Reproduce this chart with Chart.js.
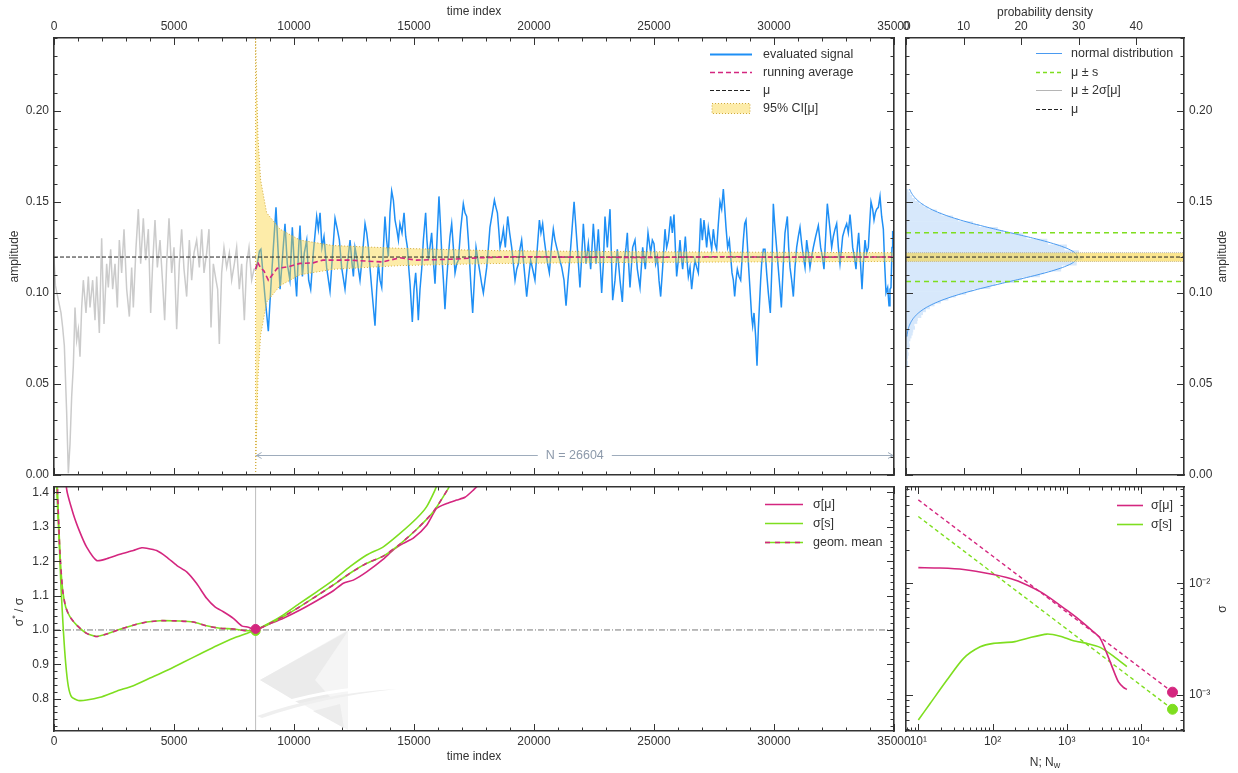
<!DOCTYPE html>
<html>
<head>
<meta charset="utf-8">
<title>signal statistics</title>
<script src="https://cdn.jsdelivr.net/npm/chart.js@4.4.1/dist/chart.umd.min.js"></script>
<style>
  html, body { margin: 0; padding: 0; background: #fff; }
  #figure { position: relative; width: 1238px; height: 773px; }
  #figure canvas { position: absolute; left: 0; top: 0; }
</style>
</head>
<body>
<div id="figure">
  <canvas id="signalChart" width="1238" height="773"></canvas>
  <canvas id="densityChart" width="1238" height="773"></canvas>
  <canvas id="ratioChart" width="1238" height="773"></canvas>
  <canvas id="sigmaChart" width="1238" height="773"></canvas>
</div>
<script>
// ---------------------------------------------------------------
// Data
// ---------------------------------------------------------------
const TIME_TICKS = [0, 5000, 10000, 15000, 20000, 25000, 30000, 35000];
const AMP_TICKS = [0, 0.05, 0.10, 0.15, 0.20];
const DENS_TICKS = [0, 10, 20, 30, 40];
const RATIO_TICKS = [0.8, 0.9, 1.0, 1.1, 1.2, 1.3, 1.4];
const N_TICKS = [10, 100, 1000, 10000];
const SIGMA_TICKS = [0.001, 0.01];

const TIME_RANGE = [0, 35000];
const AMP_RANGE = [0, 0.24];
const DENS_RANGE = [0, 48.3];
const RATIO_RANGE = [0.706, 1.416];
const N_RANGE = [6.82, 38000];
const SIGMA_RANGE = [0.000476, 0.0728];

const T_START = 8400;          // first sample of the evaluated window
const N_EVAL = 26604;
const N_ARROW_AMP = 0.011;
const MU = 0.1197;
const MU_PM_S = [0.1063, 0.1331];
const MU_PM_2SEM = [0.1173, 0.1221];

// discarded start-up part of the signal [time, amplitude]
const burnIn = [
  [0,0.119],[60,0.104],[120,0.100],[230,0.093],[292,0.089],[361,0.081],[431,0.071],[528,0.034],
  [597,0.001],[667,0.017],[736,0.043],[806,0.060],[875,0.092],[944,0.074],[1014,0.080],[1083,0.065],
  [1153,0.092],[1222,0.107],[1333,0.089],[1431,0.109],[1500,0.092],[1611,0.107],[1708,0.085],[1778,0.109],
  [1889,0.078],[1986,0.130],[2083,0.083],[2194,0.116],[2264,0.103],[2361,0.124],[2444,0.102],[2542,0.116],
  [2639,0.092],[2722,0.129],[2819,0.111],[2917,0.135],[3028,0.102],[3139,0.087],[3236,0.114],[3306,0.092],
  [3417,0.125],[3514,0.146],[3611,0.116],[3722,0.141],[3819,0.118],[3931,0.135],[4028,0.089],[4111,0.116],
  [4208,0.140],[4306,0.114],[4417,0.129],[4528,0.105],[4611,0.085],[4694,0.116],[4792,0.141],[4903,0.111],
  [5000,0.125],[5111,0.080],[5222,0.116],[5319,0.135],[5417,0.113],[5528,0.098],[5639,0.129],[5736,0.107],
  [5833,0.122],[5944,0.129],[6056,0.114],[6153,0.135],[6250,0.111],[6361,0.122],[6458,0.135],[6542,0.081],
  [6639,0.116],[6750,0.107],[6819,0.102],[6889,0.072],[6986,0.111],[7083,0.125],[7194,0.114],[7306,0.122],
  [7403,0.107],[7514,0.116],[7611,0.125],[7722,0.102],[7819,0.116],[7931,0.085],[8028,0.116],[8125,0.125],
  [8236,0.107],[8333,0.113],[8400,0.113]
];

// evaluated signal [time, amplitude]
const evaluated = [
  [8400,0.113],[8445,0.114],[8560,0.123],[8620,0.124],[8790,0.098],[8930,0.079],[9030,0.102],[9140,0.125],
  [9250,0.147],[9330,0.125],[9420,0.102],[9510,0.118],[9625,0.138],[9720,0.116],[9830,0.107],[9930,0.136],
  [10010,0.116],[10110,0.098],[10195,0.125],[10250,0.137],[10350,0.109],[10430,0.122],[10530,0.129],[10610,0.107],
  [10695,0.102],[10805,0.122],[10945,0.142],[11015,0.135],[11085,0.144],[11165,0.125],[11250,0.131],[11360,0.114],
  [11500,0.101],[11600,0.120],[11710,0.141],[11805,0.135],[11890,0.129],[11985,0.114],[12125,0.102],[12225,0.116],
  [12335,0.129],[12405,0.118],[12475,0.109],[12540,0.125],[12610,0.120],[12750,0.107],[12860,0.122],[12960,0.138],
  [13030,0.133],[13100,0.125],[13165,0.114],[13235,0.103],[13375,0.082],[13445,0.102],[13515,0.116],[13585,0.107],
  [13655,0.103],[13725,0.125],[13790,0.142],[13860,0.129],[13930,0.120],[14000,0.144],[14070,0.156],[14140,0.151],
  [14210,0.140],[14280,0.135],[14350,0.129],[14415,0.138],[14500,0.133],[14585,0.144],[14655,0.131],[14725,0.125],
  [14780,0.114],[14835,0.105],[14930,0.084],[15000,0.102],[15070,0.111],[15125,0.100],[15180,0.085],[15250,0.102],
  [15320,0.113],[15390,0.129],[15485,0.144],[15540,0.129],[15600,0.118],[15665,0.125],[15735,0.133],[15805,0.118],
  [15875,0.105],[15945,0.125],[16040,0.153],[16100,0.138],[16155,0.122],[16225,0.107],[16290,0.091],[16360,0.107],
  [16430,0.120],[16500,0.131],[16570,0.138],[16640,0.125],[16710,0.111],[16780,0.116],[16850,0.118],[16945,0.135],
  [17055,0.149],[17125,0.144],[17195,0.142],[17265,0.129],[17305,0.120],[17375,0.103],[17445,0.089],[17515,0.107],
  [17585,0.125],[17665,0.118],[17750,0.111],[17820,0.105],[17890,0.100],[17960,0.107],[18030,0.114],[18100,0.125],
  [18165,0.136],[18265,0.144],[18350,0.151],[18415,0.147],[18475,0.144],[18530,0.135],[18585,0.125],[18655,0.129],
  [18725,0.135],[18805,0.125],[18905,0.142],[18985,0.133],[19070,0.125],[19140,0.116],[19210,0.107],[19280,0.113],
  [19350,0.116],[19415,0.124],[19485,0.129],[19585,0.114],[19695,0.098],[19780,0.109],[19860,0.118],[19945,0.113],
  [20040,0.107],[20140,0.125],[20225,0.140],[20290,0.133],[20360,0.138],[20430,0.129],[20500,0.122],[20570,0.116],
  [20640,0.111],[20725,0.125],[20805,0.135],[20875,0.129],[20945,0.125],[21040,0.120],[21155,0.114],[21250,0.107],
  [21335,0.093],[21415,0.107],[21500,0.120],[21585,0.135],[21670,0.150],[21735,0.138],[21805,0.125],[21860,0.114],
  [21915,0.103],[21986,0.120],[22056,0.138],[22111,0.127],[22167,0.116],[22264,0.127],[22361,0.113],[22417,0.125],
  [22472,0.138],[22528,0.127],[22583,0.116],[22681,0.135],[22750,0.118],[22819,0.100],[22889,0.116],[22958,0.142],
  [23056,0.125],[23111,0.136],[23167,0.146],[23222,0.122],[23278,0.096],[23375,0.107],[23472,0.124],[23583,0.107],
  [23681,0.095],[23764,0.118],[23833,0.125],[23889,0.133],[23944,0.116],[24000,0.103],[24111,0.125],[24208,0.129],
  [24306,0.113],[24417,0.103],[24528,0.125],[24639,0.113],[24750,0.133],[24861,0.122],[24931,0.129],[25000,0.127],
  [25069,0.116],[25139,0.120],[25208,0.107],[25278,0.098],[25361,0.114],[25458,0.135],[25528,0.125],[25597,0.129],
  [25694,0.142],[25764,0.133],[25833,0.143],[25889,0.125],[25944,0.109],[26014,0.118],[26083,0.129],[26139,0.120],
  [26194,0.113],[26306,0.131],[26361,0.120],[26431,0.109],[26500,0.114],[26569,0.102],[26639,0.111],[26708,0.118],
  [26778,0.114],[26847,0.111],[26944,0.141],[27014,0.129],[27083,0.140],[27139,0.133],[27194,0.125],[27264,0.136],
  [27333,0.130],[27403,0.124],[27472,0.135],[27542,0.127],[27611,0.124],[27681,0.138],[27750,0.150],[27819,0.146],
  [27889,0.157],[27944,0.147],[28000,0.136],[28069,0.125],[28139,0.129],[28194,0.120],[28250,0.111],[28306,0.107],
  [28361,0.098],[28417,0.107],[28472,0.113],[28542,0.109],[28611,0.107],[28667,0.118],[28722,0.129],[28778,0.138],
  [28833,0.140],[28889,0.127],[28944,0.114],[29000,0.102],[29069,0.087],[29111,0.082],[29167,0.089],[29236,0.076],
  [29292,0.060],[29347,0.080],[29389,0.092],[29444,0.107],[29486,0.116],[29556,0.124],[29625,0.124],[29694,0.111],
  [29764,0.100],[29847,0.089],[29917,0.116],[29972,0.149],[30028,0.138],[30083,0.129],[30139,0.120],[30194,0.111],
  [30250,0.102],[30306,0.092],[30389,0.116],[30458,0.133],[30556,0.142],[30611,0.125],[30667,0.114],[30736,0.107],
  [30806,0.098],[30875,0.114],[30944,0.125],[31014,0.131],[31083,0.136],[31153,0.127],[31222,0.120],[31292,0.114],
  [31361,0.129],[31431,0.122],[31500,0.114],[31569,0.120],[31639,0.125],[31736,0.131],[31847,0.137],[31944,0.125],
  [32014,0.120],[32083,0.113],[32153,0.131],[32222,0.149],[32278,0.142],[32333,0.135],[32403,0.125],[32472,0.131],
  [32542,0.135],[32611,0.138],[32681,0.125],[32750,0.116],[32819,0.125],[32861,0.131],[32944,0.135],[33028,0.138],
  [33097,0.133],[33167,0.143],[33222,0.135],[33278,0.125],[33347,0.120],[33417,0.113],[33472,0.125],[33528,0.133],
  [33597,0.118],[33667,0.102],[33722,0.116],[33792,0.129],[33861,0.122],[33931,0.125],[33986,0.138],[34042,0.150],
  [34111,0.146],[34167,0.140],[34222,0.144],[34278,0.146],[34347,0.147],[34417,0.153],[34486,0.142],[34556,0.135],
  [34611,0.116],[34667,0.100],[34736,0.103],[34792,0.093],[34833,0.102],[34875,0.103],[34917,0.125],[34944,0.134],
  [35000,0.130]
];

const runningAvg = [
  [8400,0.113],[8480,0.117],[8600,0.114],[8750,0.112],[8930,0.107],[9100,0.110],[9300,0.1135],[9800,0.1145],
  [10250,0.1162],[10800,0.1165],[11200,0.118],[12300,0.118],[13000,0.1175],[13700,0.117],[14400,0.1193],
  [15100,0.118],[16500,0.1185],[17900,0.1194],[19300,0.1199],[22000,0.1196],[25000,0.1195],[28000,0.1199],
  [30000,0.1196],[33000,0.1197],[35000,0.1197]
];

const ciTime  = [8400, 8440, 8500, 8610, 8860, 9420, 10250, 11640, 14400, 18000, 22000, 28000, 35000];
const ciUpper = [0.240, 0.215, 0.185, 0.162, 0.144, 0.135, 0.129, 0.126, 0.1245, 0.1233, 0.1228, 0.1224, 0.1221];
const ciLower = [0.000, 0.024, 0.054, 0.077, 0.095, 0.104, 0.110, 0.113, 0.1150, 0.1161, 0.1166, 0.1170, 0.1173];

// histogram of the evaluated signal (bin centre, density)
const histAmp = [
  0.0600,0.0616,0.0632,0.0648,0.0664,0.0680,0.0696,0.0712,0.0728,0.0744,0.0760,0.0776,0.0792,0.0808,0.0824,
  0.0840,0.0856,0.0872,0.0888,0.0904,0.0920,0.0936,0.0952,0.0968,0.0984,0.1000,0.1016,0.1032,0.1048,0.1064,
  0.1080,0.1096,0.1112,0.1128,0.1144,0.1160,0.1176,0.1192,0.1208,0.1224,0.1240,0.1256,0.1272,0.1288,0.1304,
  0.1320,0.1336,0.1352,0.1368,0.1384,0.1400,0.1416,0.1432,0.1448,0.1464,0.1480,0.1496,0.1512,0.1528,0.1544,0.1560
];
const histDens = [
  0.3,0.3,0.2,0.3,0.4,0.3,0.5,0.6,0.5,0.7,0.9,1.1,1.2,1.5,1.4,
  1.9,2.0,2.6,2.9,3.4,4.1,4.9,6.0,7.3,8.6,10.4,11.5,14.6,15.5,19.0,
  20.1,23.2,24.0,26.9,27.0,29.6,28.8,30.6,29.2,30.0,27.5,27.9,24.6,24.5,20.9,
  20.3,16.8,15.9,12.6,11.6,9.0,8.1,6.1,5.3,3.8,3.0,2.2,1.5,1.0,0.7,0.4
];

// fitted normal distribution (amplitude, density)
const normAmp = [
  0.076,0.078,0.080,0.082,0.084,0.086,0.088,0.090,0.092,0.094,0.096,0.098,0.100,0.102,0.104,0.106,0.108,
  0.110,0.112,0.114,0.116,0.118,0.1197,0.122,0.124,0.126,0.128,0.130,0.132,0.134,0.136,0.138,0.140,0.142,
  0.144,0.146,0.148,0.150,0.152,0.154,0.156,0.157
];
const normDens = [
  0.15,0.24,0.37,0.57,0.86,1.26,1.81,2.56,3.52,4.74,6.24,8.03,10.11,12.46,15.0,17.67,20.36,
  22.93,25.27,27.22,28.69,29.56,29.8,29.37,28.30,26.68,24.60,22.18,19.55,16.86,14.22,11.73,9.46,7.46,
  5.76,4.34,3.20,2.31,1.63,1.12,0.76,0.62
];

// sigma*/sigma against the start of the evaluated window [time, ratio]
const sigmaMuRatio = [
  [300,1.60],[528,1.409],[806,1.337],[1083,1.284],[1361,1.241],[1778,1.202],[2194,1.207],[2750,1.220],
  [3306,1.231],[3653,1.239],[3861,1.238],[4278,1.231],[4694,1.212],[5111,1.188],[5528,1.169],[5944,1.135],
  [6361,1.092],[6708,1.067],[7056,1.053],[7472,1.034],[7819,1.012],[8097,1.008],[8400,1.0],[8861,1.014],
  [9556,1.034],[10250,1.058],[10945,1.085],[11639,1.114],[12056,1.136],[12472,1.145],[13028,1.169],
  [13722,1.206],[14139,1.233],[14556,1.252],[14972,1.267],[15528,1.305],[15945,1.354],[16361,1.368],
  [16778,1.378],[17125,1.386],[17472,1.407],[17800,1.43]
];
const sigmaSRatio = [
  [40,1.70],[111,1.42],[208,1.270],[292,1.125],[389,1.0],[486,0.904],[597,0.836],[736,0.805],[1014,0.795],
  [1361,0.796],[1917,0.804],[2611,0.822],[3306,0.838],[4000,0.860],[4694,0.882],[5389,0.906],[6083,0.930],
  [6778,0.954],[7472,0.976],[8028,0.990],[8400,1.0],[9000,1.021],[9556,1.044],[10250,1.078],[10945,1.111],
  [11639,1.145],[12333,1.184],[13028,1.218],[13722,1.242],[14417,1.281],[15111,1.325],[15528,1.359],
  [15875,1.407],[16000,1.43]
];
const geomMeanRatio = [
  [60,1.70],[139,1.42],[250,1.222],[361,1.116],[486,1.067],[667,1.038],[944,1.014],[1361,0.990],[1778,0.981],
  [2194,0.988],[2750,1.002],[3306,1.014],[3861,1.023],[4417,1.027],[5250,1.026],[5806,1.023],[6361,1.012],
  [6917,1.005],[7472,1.003],[8028,0.998],[8400,1.0],[9000,1.019],[9556,1.039],[10250,1.068],[10945,1.099],
  [11639,1.131],[12333,1.165],[13028,1.194],[13722,1.215],[14417,1.250],[15111,1.293],[15806,1.344],
  [16431,1.412],[16550,1.43]
];

// sigma against sample / window size [N, sigma]
const sigmaMuN = [
  [10,0.0138],[19.6,0.0137],[40.7,0.0133],[103,0.0120],[155,0.01125],[236,0.01027],[486,0.00809],[1000,0.00574],
  [1510,0.00466],[2290,0.00368],[2820,0.00321],[3470,0.00236],[4250,0.00167],[4970,0.00131],[5800,0.00117],
  [6450,0.00112]
];
const sigmaSN = [
  [10,0.000598],[14.5,0.000843],[24.3,0.00136],[40.7,0.00213],[68.2,0.0027],[103,0.0029],[192,0.00299],
  [290,0.00321],[540,0.00351],[815,0.00336],[1230,0.00306],[1860,0.0029],[2820,0.00267],[4250,0.00223],
  [6450,0.00179]
];
const refMuN = [[10,0.0558],[26604,0.00106]];
const refSN = [[10,0.0396],[26604,0.000745]];

// ---------------------------------------------------------------
// Styles and helpers
// ---------------------------------------------------------------
const W = 1238, H = 773;
const FONT = '"Liberation Sans", Arial, Helvetica, sans-serif';
const INK = '#333333';
const BLUE = '#1e8ff5';
const GRAY = '#cbcbcb';
const MAGENTA = '#d4267f';
const GREEN = '#7ede1f';
const NORMAL_BLUE = '#4a9af0';
const HIST_BLUE = '#d7e8fb';
const CI_FILL = 'rgba(250, 210, 50, 0.42)';
const BAND_FILL = 'rgba(250, 210, 50, 0.55)';
const CI_EDGE = '#cfa93c';

Chart.defaults.font.family = FONT;
Chart.defaults.font.size = 12;
Chart.defaults.color = INK;

const BOX = {
  signal:  { l: 54,  t: 38,  r: 894,  b: 475 },
  density: { l: 906, t: 38,  r: 1184, b: 475 },
  ratio:   { l: 54,  t: 487, r: 894,  b: 731 },
  sigma:   { l: 906, t: 487, r: 1184, b: 731 },
};
const LABELED_H = 30, LABELED_V = 44, BARE = 2;

const xy = pairs => pairs.map(([x, y]) => ({ x, y }));
const zip = (xs, ys) => xs.map((x, i) => ({ x, y: ys[i] }));
const hline = (y, range) => [{ x: range[0], y }, { x: range[1], y }];

function range(a, b, step) {
  const out = [];
  for (let i = 0; a + i * step <= b + 1e-9; i++) out.push(+(a + i * step).toFixed(6));
  return out;
}
function logMinor(lo, hi) {
  const out = [];
  for (let e = Math.floor(Math.log10(lo)); e <= Math.floor(Math.log10(hi)); e++) {
    for (let m = 1; m <= 9; m++) {
      const v = m * Math.pow(10, e);
      if (v >= lo && v <= hi) out.push(v);
    }
  }
  return out;
}

const SUP = { '-': '\u207B', '0': '\u2070', '1': '\u00B9', '2': '\u00B2', '3': '\u00B3',
  '4': '\u2074', '5': '\u2075', '6': '\u2076', '7': '\u2077', '8': '\u2078', '9': '\u2079' };
const fmtInt = v => String(Math.round(v));
const fmt1 = v => v.toFixed(1);
const fmt2 = v => v.toFixed(2);
const fmtPow = v => '10' + String(Math.round(Math.log10(v))).split('').map(c => SUP[c]).join('');

function axis(position, o) {
  const horiz = position === 'top' || position === 'bottom';
  const size = o.format ? (horiz ? LABELED_H : LABELED_V) : BARE;
  return {
    type: o.type || 'linear',
    axis: horiz ? 'x' : 'y',
    position,
    min: o.range[0],
    max: o.range[1],
    bounds: 'data',
    offset: false,
    grid: { display: false, drawTicks: false, offset: false },
    border: { display: true, color: INK, width: 1.6, z: 1 },
    ticks: {
      display: !!o.format,
      autoSkip: false,
      maxRotation: 0,
      minRotation: 0,
      padding: o.pad != null ? o.pad : 4,
      color: INK,
      font: { size: 12 },
      callback: o.format || (() => ''),
    },
    afterBuildTicks: s => { s.ticks = o.major.map(v => ({ value: v })); },
    afterFit: s => { if (horiz) s.height = size; else s.width = size; },
  };
}

function layoutFor(box, lab) {
  return {
    left: box.l - (lab.left ? LABELED_V : BARE),
    right: W - box.r - (lab.right ? LABELED_V : BARE),
    top: box.t - (lab.top ? LABELED_H : BARE),
    bottom: H - box.b - (lab.bottom ? LABELED_H : BARE),
  };
}

function drawTickMarks(chart, marks) {
  const { ctx, chartArea: a } = chart;
  ctx.save();
  ctx.strokeStyle = INK;
  ctx.lineWidth = 1;
  marks.forEach(({ id, major, minor }) => {
    const s = chart.scales[id];
    const mark = (v, len) => {
      const p = Math.round(s.getPixelForValue(v)) + 0.5;
      const horiz = s.position === 'top' || s.position === 'bottom';
      if (horiz && (p < a.left - 1 || p > a.right + 1)) return;
      if (!horiz && (p < a.top - 1 || p > a.bottom + 1)) return;
      ctx.beginPath();
      if (s.position === 'bottom') { ctx.moveTo(p, a.bottom); ctx.lineTo(p, a.bottom - len); }
      if (s.position === 'top') { ctx.moveTo(p, a.top); ctx.lineTo(p, a.top + len); }
      if (s.position === 'left') { ctx.moveTo(a.left, p); ctx.lineTo(a.left + len, p); }
      if (s.position === 'right') { ctx.moveTo(a.right, p); ctx.lineTo(a.right - len, p); }
      ctx.stroke();
    };
    (minor || []).forEach(v => mark(v, 3.5));
    major.forEach(v => mark(v, 7));
  });
  ctx.restore();
}

function strokeSample(ctx, x0, x1, y, color, width, dash) {
  ctx.save();
  ctx.strokeStyle = color;
  ctx.lineWidth = width;
  ctx.setLineDash(dash || []);
  ctx.beginPath();
  ctx.moveTo(x0, y);
  ctx.lineTo(x1, y);
  ctx.stroke();
  ctx.restore();
}

function drawLegend(ctx, a, lg) {
  lg.items.forEach((it, i) => {
    const y = Math.round(a.top + lg.top + i * lg.step) + 0.5;
    const x0 = a.right - lg.sample[0], x1 = a.right - lg.sample[1];
    if (it.kind === 'box') {
      ctx.save();
      ctx.fillStyle = CI_FILL;
      ctx.fillRect(x0 + 2, y - 5, x1 - x0 - 4, 10);
      ctx.strokeStyle = CI_EDGE;
      ctx.lineWidth = 1;
      ctx.setLineDash([1, 2]);
      ctx.strokeRect(x0 + 2, y - 5, x1 - x0 - 4, 10);
      ctx.restore();
    } else if (it.kind === 'dual') {
      strokeSample(ctx, x0, x1, y, GREEN, 1.6);
      strokeSample(ctx, x0, x1, y, MAGENTA, 1.6, [5, 5]);
    } else {
      strokeSample(ctx, x0, x1, y, it.color, it.width, it.dash);
    }
    ctx.save();
    ctx.font = '12.5px ' + FONT;
    ctx.fillStyle = INK;
    ctx.textBaseline = 'middle';
    ctx.textAlign = 'left';
    ctx.fillText(it.label, a.right - lg.text, y);
    ctx.restore();
  });
}

function drawRich(ctx, parts, x, y, rot) {
  ctx.save();
  ctx.translate(x, y);
  ctx.rotate(rot || 0);
  ctx.fillStyle = INK;
  ctx.textBaseline = 'middle';
  ctx.textAlign = 'left';
  const font = p => (p.sup || p.sub ? 9 : 12) + 'px ' + FONT;
  let w = 0;
  parts.forEach(p => { ctx.font = font(p); w += ctx.measureText(p.t).width; });
  let cx = -w / 2;
  parts.forEach(p => {
    ctx.font = font(p);
    ctx.fillText(p.t, cx, p.sup ? -4 : p.sub ? 3 : 0);
    cx += ctx.measureText(p.t).width;
  });
  ctx.restore();
}

function decor(cfg) {
  return {
    id: 'decor',
    beforeDatasetsDraw(chart) { if (cfg.under) cfg.under(chart); },
    afterDatasetsDraw(chart) { if (cfg.over) cfg.over(chart); },
    afterDraw(chart) {
      const { ctx, chartArea: a } = chart;
      drawTickMarks(chart, cfg.marks);
      drawLegend(ctx, a, cfg.legend);
      cfg.titles.forEach(t => drawRich(ctx, t.parts, t.x(a), t.y(a), t.rot));
    },
  };
}

const midX = a => (a.left + a.right) / 2;
const midY = a => (a.top + a.bottom) / 2;
const UP = -Math.PI / 2;

function baseOptions(box, lab, scales) {
  return {
    responsive: false,
    animation: false,
    events: [],
    layout: { autoPadding: false, padding: layoutFor(box, lab) },
    elements: { point: { radius: 0 }, line: { tension: 0, fill: false, borderWidth: 1.5 } },
    plugins: { legend: { display: false }, tooltip: { enabled: false } },
    scales,
  };
}

function poly(ctx, pts, color) {
  ctx.fillStyle = color;
  ctx.beginPath();
  pts.forEach(([x, y], i) => (i ? ctx.lineTo(x, y) : ctx.moveTo(x, y)));
  ctx.closePath();
  ctx.fill();
}

const timeMinor = range(0, 35000, 1000);
const ampMinor = range(0, 0.24, 0.01);

// ---------------------------------------------------------------
// 1. Signal with running average and confidence band
// ---------------------------------------------------------------
new Chart(document.getElementById('signalChart'), {
  type: 'line',
  data: {
    datasets: [
      { label: 'running average', data: xy(runningAvg), borderColor: MAGENTA, borderWidth: 1.6,
        borderDash: [5, 3], order: 0 },
      { label: 'mu', data: hline(MU, TIME_RANGE), borderColor: '#222', borderWidth: 1,
        borderDash: [4, 2], order: 1 },
      { label: 'ci lower', data: zip(ciTime, ciLower), borderColor: CI_EDGE, borderWidth: 1,
        borderDash: [1, 2], order: 3 },
      { label: 'ci upper', data: zip(ciTime, ciUpper), borderColor: CI_EDGE, borderWidth: 1,
        borderDash: [1, 2], fill: 2, backgroundColor: CI_FILL, order: 2 },
      { label: 'ci edge', data: [{ x: T_START, y: AMP_RANGE[0] }, { x: T_START, y: AMP_RANGE[1] }],
        borderColor: CI_EDGE, borderWidth: 1, borderDash: [1, 2], order: 3 },
      { label: 'evaluated signal', data: xy(evaluated), borderColor: BLUE, borderWidth: 1.5, order: 4 },
      { label: 'burn-in', data: xy(burnIn), borderColor: GRAY, borderWidth: 1.5, order: 5 },
    ],
  },
  options: baseOptions(BOX.signal, { left: true, top: true }, {
    x: axis('bottom', { range: TIME_RANGE, major: TIME_TICKS }),
    x2: axis('top', { range: TIME_RANGE, major: TIME_TICKS, format: fmtInt }),
    y: axis('left', { range: AMP_RANGE, major: AMP_TICKS, format: fmt2, pad: 5 }),
    y2: axis('right', { range: AMP_RANGE, major: AMP_TICKS }),
  }),
  plugins: [decor({
    marks: [
      { id: 'x', major: TIME_TICKS, minor: timeMinor },
      { id: 'x2', major: TIME_TICKS, minor: timeMinor },
      { id: 'y', major: AMP_TICKS, minor: ampMinor },
      { id: 'y2', major: AMP_TICKS, minor: ampMinor },
    ],
    legend: {
      sample: [184, 142], text: 131, top: 16, step: 18,
      items: [
        { label: 'evaluated signal', color: BLUE, width: 1.8 },
        { label: 'running average', color: MAGENTA, width: 1.6, dash: [5, 3] },
        { label: '\u03BC', color: '#222', width: 1, dash: [4, 2] },
        { label: '95% CI[\u03BC]', kind: 'box' },
      ],
    },
    titles: [
      { parts: [{ t: 'time index' }], x: midX, y: a => a.top - 26 },
      { parts: [{ t: 'amplitude' }], x: a => a.left - 39, y: midY, rot: UP },
    ],
    over(chart) {
      const { ctx } = chart;
      const sx = chart.scales.x, sy = chart.scales.y;
      const x0 = sx.getPixelForValue(T_START), x1 = sx.getPixelForValue(TIME_RANGE[1]);
      const y = Math.round(sy.getPixelForValue(N_ARROW_AMP)) + 0.5;
      ctx.save();
      ctx.strokeStyle = '#9eacbc';
      ctx.lineWidth = 1;
      ctx.beginPath();
      ctx.moveTo(x0, y); ctx.lineTo(x1, y);
      ctx.moveTo(x0 + 6, y - 3); ctx.lineTo(x0 + 1, y); ctx.lineTo(x0 + 6, y + 3);
      ctx.moveTo(x1 - 6, y - 3); ctx.lineTo(x1 - 1, y); ctx.lineTo(x1 - 6, y + 3);
      ctx.stroke();
      const label = 'N = ' + N_EVAL;
      ctx.font = '12.5px ' + FONT;
      const tw = ctx.measureText(label).width;
      const cx = (x0 + x1) / 2;
      ctx.fillStyle = '#fff';
      ctx.fillRect(cx - tw / 2 - 8, y - 7, tw + 16, 14);
      ctx.fillStyle = '#8d9aab';
      ctx.textAlign = 'center';
      ctx.textBaseline = 'middle';
      ctx.fillText(label, cx, y);
      ctx.restore();
    },
  })],
});

// ---------------------------------------------------------------
// 2. Probability density of the evaluated signal
// ---------------------------------------------------------------
new Chart(document.getElementById('densityChart'), {
  type: 'line',
  data: {
    datasets: [
      { label: 'mu', data: hline(MU, DENS_RANGE), borderColor: '#222', borderWidth: 1,
        borderDash: [4, 2], order: 0 },
      { label: 'mu - s', data: hline(MU_PM_S[0], DENS_RANGE), borderColor: GREEN, borderWidth: 1.5,
        borderDash: [5, 4], order: 1 },
      { label: 'mu + s', data: hline(MU_PM_S[1], DENS_RANGE), borderColor: GREEN, borderWidth: 1.5,
        borderDash: [5, 4], order: 1 },
      { label: 'mu - 2sem', data: hline(MU_PM_2SEM[0], DENS_RANGE), borderColor: '#aaaaaa',
        borderWidth: 0.8, borderDash: [1, 1], order: 3 },
      { label: 'mu + 2sem', data: hline(MU_PM_2SEM[1], DENS_RANGE), borderColor: '#aaaaaa',
        borderWidth: 0.8, borderDash: [1, 1], fill: 3, backgroundColor: BAND_FILL, order: 2 },
      { label: 'normal distribution', data: zip(normDens, normAmp), borderColor: NORMAL_BLUE,
        borderWidth: 1, tension: 0.2, order: 4 },
      { type: 'bar', label: 'histogram', indexAxis: 'y', data: zip(histDens, histAmp),
        backgroundColor: HIST_BLUE, borderWidth: 0, barPercentage: 1, categoryPercentage: 1, order: 6 },
    ],
  },
  options: baseOptions(BOX.density, { right: true, top: true }, {
    x: axis('bottom', { range: DENS_RANGE, major: DENS_TICKS }),
    x2: axis('top', { range: DENS_RANGE, major: DENS_TICKS, format: fmtInt }),
    y: axis('left', { range: AMP_RANGE, major: AMP_TICKS }),
    y2: axis('right', { range: AMP_RANGE, major: AMP_TICKS, format: fmt2, pad: 5 }),
  }),
  plugins: [decor({
    marks: [
      { id: 'x', major: DENS_TICKS },
      { id: 'x2', major: DENS_TICKS },
      { id: 'y', major: AMP_TICKS, minor: ampMinor },
      { id: 'y2', major: AMP_TICKS, minor: ampMinor },
    ],
    legend: {
      sample: [148, 122], text: 113, top: 15, step: 18.7,
      items: [
        { label: 'normal distribution', color: NORMAL_BLUE, width: 1 },
        { label: '\u03BC \u00B1 s', color: GREEN, width: 1.5, dash: [4, 3] },
        { label: '\u03BC \u00B1 2\u03C3[\u03BC]', color: '#b5b5b5', width: 1 },
        { label: '\u03BC', color: '#222', width: 1, dash: [4, 2] },
      ],
    },
    titles: [
      { parts: [{ t: 'probability density' }], x: midX, y: a => a.top - 25 },
      { parts: [{ t: 'amplitude' }], x: a => a.right + 39, y: midY, rot: UP },
    ],
  })],
});

// ---------------------------------------------------------------
// 3. Relative sigma against window start
// ---------------------------------------------------------------
new Chart(document.getElementById('ratioChart'), {
  type: 'line',
  data: {
    datasets: [
      { label: 'sigma mu start', data: [{ x: T_START, y: 1.003 }], showLine: false, pointRadius: 4.5,
        pointBackgroundColor: MAGENTA, pointBorderColor: MAGENTA, order: 0 },
      { label: 'sigma s start', data: [{ x: T_START, y: 0.997 }], showLine: false, pointRadius: 4.5,
        pointBackgroundColor: GREEN, pointBorderColor: GREEN, order: 0 },
      { label: 'geom. mean dash', data: xy(geomMeanRatio), borderColor: MAGENTA, borderWidth: 1.6,
        borderDash: [5, 5], tension: 0.2, order: 1 },
      { label: 'geom. mean', data: xy(geomMeanRatio), borderColor: GREEN, borderWidth: 1.6,
        tension: 0.2, order: 2 },
      { label: 'sigma s', data: xy(sigmaSRatio), borderColor: GREEN, borderWidth: 1.6,
        tension: 0.2, order: 3 },
      { label: 'sigma mu', data: xy(sigmaMuRatio), borderColor: MAGENTA, borderWidth: 1.6,
        tension: 0.2, order: 3 },
      { label: 'unity', data: hline(1, TIME_RANGE), borderColor: '#777', borderWidth: 1,
        borderDash: [6, 2, 1, 2], order: 5 },
      { label: 'window start', data: [{ x: T_START, y: RATIO_RANGE[0] }, { x: T_START, y: RATIO_RANGE[1] }],
        borderColor: '#bdbdbd', borderWidth: 1, order: 6 },
    ],
  },
  options: baseOptions(BOX.ratio, { left: true, bottom: true }, {
    x: axis('bottom', { range: TIME_RANGE, major: TIME_TICKS, format: fmtInt, pad: 3 }),
    x2: axis('top', { range: TIME_RANGE, major: TIME_TICKS }),
    y: axis('left', { range: RATIO_RANGE, major: RATIO_TICKS, format: fmt1, pad: 5 }),
    y2: axis('right', { range: RATIO_RANGE, major: RATIO_TICKS }),
  }),
  plugins: [decor({
    marks: [
      { id: 'x', major: TIME_TICKS, minor: timeMinor },
      { id: 'x2', major: TIME_TICKS, minor: timeMinor },
      { id: 'y', major: RATIO_TICKS, minor: range(0.72, 1.40, 0.02) },
      { id: 'y2', major: RATIO_TICKS, minor: range(0.72, 1.40, 0.02) },
    ],
    legend: {
      sample: [129, 91], text: 81, top: 17, step: 19,
      items: [
        { label: '\u03C3[\u03BC]', color: MAGENTA, width: 1.6 },
        { label: '\u03C3[s]', color: GREEN, width: 1.6 },
        { label: 'geom. mean', kind: 'dual' },
      ],
    },
    titles: [
      { parts: [{ t: 'time index' }], x: midX, y: a => a.bottom + 26 },
      { parts: [{ t: '\u03C3' }, { t: '*', sup: true }, { t: ' / \u03C3' }], x: a => a.left - 34,
        y: a => midY(a) + 3, rot: UP },
    ],
    under(chart) {
      // faint logo in the background
      const { ctx } = chart;
      ctx.save();
      poly(ctx, [[260, 680], [348, 630], [348, 730]], '#f5f5f5');
      poly(ctx, [[260, 680], [348, 631], [315, 680], [331, 698], [300, 704]], '#ebebeb');
      poly(ctx, [[313, 711], [340, 704], [344, 728]], '#ececec');
      ctx.fillStyle = '#efefef';
      ctx.beginPath();
      ctx.moveTo(257, 716);
      ctx.quadraticCurveTo(322, 693, 397, 689);
      ctx.quadraticCurveTo(322, 697, 262, 718);
      ctx.closePath();
      ctx.fill();
      ctx.strokeStyle = '#ffffff';
      ctx.lineWidth = 3;
      ctx.beginPath();
      ctx.moveTo(258, 711);
      ctx.quadraticCurveTo(322, 688, 398, 686);
      ctx.stroke();
      ctx.restore();
    },
  })],
});

// ---------------------------------------------------------------
// 4. Sigma against sample size (log-log)
// ---------------------------------------------------------------
new Chart(document.getElementById('sigmaChart'), {
  type: 'line',
  data: {
    datasets: [
      { label: 'sigma mu final', data: xy(refMuN.slice(-1)), showLine: false, pointRadius: 5,
        pointBackgroundColor: MAGENTA, pointBorderColor: MAGENTA, order: 0 },
      { label: 'sigma s final', data: xy(refSN.slice(-1)), showLine: false, pointRadius: 5,
        pointBackgroundColor: GREEN, pointBorderColor: GREEN, order: 0 },
      { label: 'sigma mu', data: xy(sigmaMuN), borderColor: MAGENTA, borderWidth: 1.6,
        tension: 0.25, order: 1 },
      { label: 'sigma s', data: xy(sigmaSN), borderColor: GREEN, borderWidth: 1.6,
        tension: 0.25, order: 2 },
      { label: 'sigma mu reference', data: xy(refMuN), borderColor: MAGENTA, borderWidth: 1.4,
        borderDash: [4, 3], order: 3 },
      { label: 'sigma s reference', data: xy(refSN), borderColor: GREEN, borderWidth: 1.4,
        borderDash: [4, 3], order: 3 },
    ],
  },
  options: baseOptions(BOX.sigma, { right: true, bottom: true }, {
    x: axis('bottom', { type: 'logarithmic', range: N_RANGE, major: N_TICKS, format: fmtPow, pad: 3 }),
    x2: axis('top', { type: 'logarithmic', range: N_RANGE, major: N_TICKS }),
    y: axis('left', { type: 'logarithmic', range: SIGMA_RANGE, major: SIGMA_TICKS }),
    y2: axis('right', { type: 'logarithmic', range: SIGMA_RANGE, major: SIGMA_TICKS, format: fmtPow, pad: 5 }),
  }),
  plugins: [decor({
    marks: [
      { id: 'x', major: N_TICKS, minor: logMinor(N_RANGE[0], N_RANGE[1]) },
      { id: 'x2', major: N_TICKS, minor: logMinor(N_RANGE[0], N_RANGE[1]) },
      { id: 'y', major: SIGMA_TICKS, minor: logMinor(SIGMA_RANGE[0], SIGMA_RANGE[1]) },
      { id: 'y2', major: SIGMA_TICKS, minor: logMinor(SIGMA_RANGE[0], SIGMA_RANGE[1]) },
    ],
    legend: {
      sample: [67, 41], text: 33, top: 18, step: 19,
      items: [
        { label: '\u03C3[\u03BC]', color: MAGENTA, width: 1.6 },
        { label: '\u03C3[s]', color: GREEN, width: 1.6 },
      ],
    },
    titles: [
      { parts: [{ t: 'N; N' }, { t: 'w', sub: true }], x: midX, y: a => a.bottom + 32 },
      { parts: [{ t: '\u03C3' }], x: a => a.right + 39, y: midY, rot: UP },
    ],
  })],
});
</script>
</body>
</html>
